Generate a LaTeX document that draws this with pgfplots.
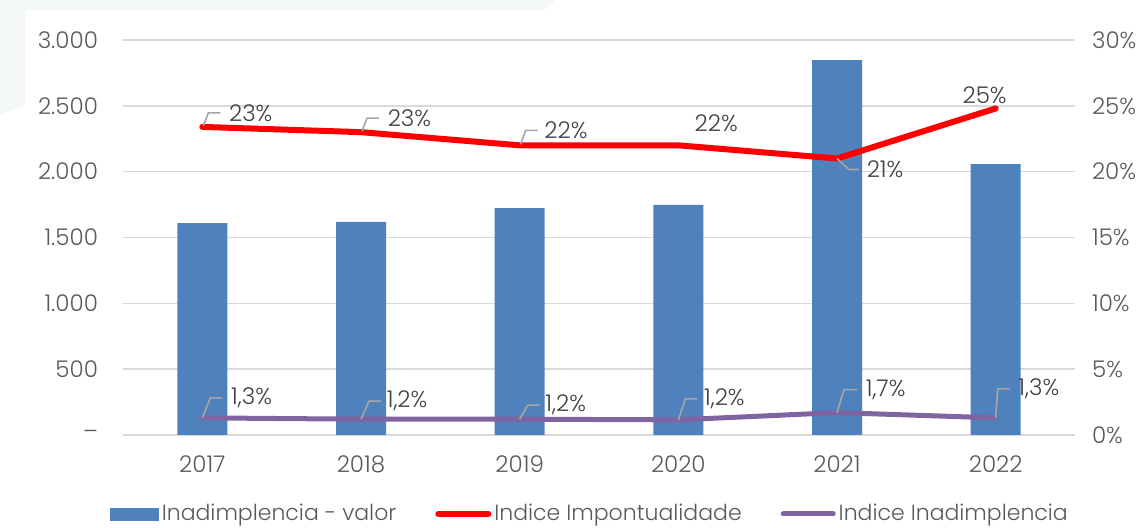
\documentclass[border=0pt]{standalone}
\usepackage{pgfplots}
\pgfplotsset{compat=1.18}
\usepackage{fontspec}
\setmainfont{Poppins Light}
\definecolor{barblue}{HTML}{4F81BD}
\definecolor{lred}{HTML}{FF0000}
\definecolor{lpurple}{HTML}{8064A2}
\definecolor{tickgray}{HTML}{595959}
\definecolor{labgray}{HTML}{404040}
\definecolor{gridgray}{HTML}{D9D9D9}
\definecolor{leadgray}{HTML}{A6A6A6}
\definecolor{bgtint}{HTML}{F3F7F7}
\begin{document}
\begin{tikzpicture}[font=\fontsize{11.5pt}{13pt}\selectfont]
\useasboundingbox (-61.5pt,-46.5pt) rectangle (510pt,217.5pt);
\fill[bgtint] (-61.5pt,217.5pt) -- (216pt,217.5pt) -- (211pt,212.5pt) -- (-49pt,212.5pt) -- (-49pt,165pt) -- (-61.5pt,160pt) -- cycle;
\begin{axis}[
  at={(0,0)}, anchor=south west,
  width=476pt, height=197.5pt, scale only axis,
  xmin=-0.5, xmax=5.5, ymin=0, ymax=3000,
  xtick={0,1,2,3,4,5},
  xticklabels={2017,2018,2019,2020,2021,2022},
  ytick={0,500,1000,1500,2000,2500,3000},
  yticklabels={--,500,1.000,1.500,2.000,2.500,3.000},
  major tick length=0pt,
  axis line style={draw=none},
  ymajorgrids, grid style={gridgray, line width=0.8pt},
  tick label style={tickgray},
  yticklabel style={xshift=-9pt, anchor=east},
  xticklabel style={yshift=-7pt},
  /pgf/number format/assume math mode=true,
]
\addplot[ybar, bar width=25pt, fill=barblue, draw=none] coordinates {
  (0,1610) (1,1618) (2,1724) (3,1747) (4,2848) (5,2058)};
\end{axis}
\begin{axis}[
  at={(0,0)}, anchor=south west,
  width=476pt, height=197.5pt, scale only axis,
  xmin=-0.5, xmax=5.5, ymin=0, ymax=30,
  axis x line=none,
  axis y line*=right,
  y axis line style={draw=none},
  ytick={0,5,10,15,20,25,30},
  yticklabels={0\%,5\%,10\%,15\%,20\%,25\%,30\%},
  major tick length=0pt,
  tick label style={tickgray},
  yticklabel style={xshift=5pt, anchor=west},
  /pgf/number format/assume math mode=true,
  legend columns=3,
  legend style={at={(0.491,-0.200)}, anchor=center, draw=none, fill=none,
    text=tickgray, inner sep=0pt, font=\fontsize{11pt}{12pt}\selectfont,
    /tikz/every even column/.append style={column sep=18pt},
    nodes={inner sep=1.5pt}},
]
\addlegendimage{legend image code/.code={\fill[barblue] (0pt,-3pt) rectangle (24pt,3pt);}}
\addlegendentry{Inadimplencia - valor}
\addplot[lred, line width=3pt, line cap=round, line join=round,
  legend image code/.code={\draw[lred, line width=3pt, line cap=round] (0pt,0pt) -- (25pt,0pt);}]
  coordinates {(0,23.4) (1,23.0) (2,22.0) (3,22.0) (4,21.0) (5,24.8)};
\addlegendentry{Indice Impontualidade}
\addplot[lpurple, line width=2.5pt, line cap=round, line join=round,
  legend image code/.code={\draw[lpurple, line width=2.5pt, line cap=round] (0pt,0pt) -- (25pt,0pt);}]
  coordinates {(0,1.3) (1,1.2) (2,1.2) (3,1.15) (4,1.7) (5,1.3)};
\addlegendentry{Indice Inadimplencia}
% data labels: red
\draw[leadgray, line width=0.8pt] (axis cs:0,23.4) ++(0.5pt,0.5pt) -- ++(2.5pt,6.5pt) -- ++(6pt,0pt) node[anchor=west, labgray, inner sep=0pt, xshift=4pt]{23\%};
\draw[leadgray, line width=0.8pt] (axis cs:1,23.0) ++(0.5pt,0.5pt) -- ++(2.5pt,6.5pt) -- ++(6pt,0pt) node[anchor=west, labgray, inner sep=0pt, xshift=4pt]{23\%};
\draw[leadgray, line width=0.8pt] (axis cs:2,22.0) ++(0.5pt,0.5pt) -- ++(2.5pt,7pt) -- ++(6pt,0pt) node[anchor=west, labgray, inner sep=0pt, xshift=3pt]{22\%};
\node[anchor=west, labgray, inner sep=0pt] at ([xshift=8pt,yshift=11pt]axis cs:3,22.0) {22\%};
\draw[leadgray, line width=0.8pt] (axis cs:4,21.0) ++(0pt,0pt) -- ++(6pt,-5.5pt) -- ++(5pt,0pt) node[anchor=west, labgray, inner sep=0pt, xshift=3.5pt]{21\%};
\node[anchor=center, labgray, inner sep=0pt] at ([xshift=-5.5pt,yshift=6.5pt]axis cs:5,24.8) {25\%};
% data labels: purple
\draw[leadgray, line width=0.8pt] (axis cs:0,1.3) -- ++(4pt,10pt) -- ++(6pt,0pt) node[anchor=west, labgray, inner sep=0pt, xshift=4pt]{1,3\%};
\draw[leadgray, line width=0.8pt] (axis cs:1,1.2) -- ++(4pt,9pt) -- ++(6pt,0pt) node[anchor=west, labgray, inner sep=0pt, xshift=2.5pt]{1,2\%};
\draw[leadgray, line width=0.8pt] (axis cs:2,1.2) -- ++(4pt,7pt) -- ++(6pt,0pt) node[anchor=west, labgray, inner sep=0pt, xshift=2.5pt]{1,2\%};
\draw[leadgray, line width=0.8pt] (axis cs:3,1.15) -- ++(3.5pt,10.5pt) -- ++(6pt,0pt) node[anchor=west, labgray, inner sep=0pt, xshift=3pt]{1,2\%};
\draw[leadgray, line width=0.8pt] (axis cs:4,1.7) -- ++(3.5pt,11.5pt) -- ++(6.5pt,0pt) node[anchor=west, labgray, inner sep=0pt, xshift=4pt]{1,7\%};
\draw[leadgray, line width=0.8pt] (axis cs:5,1.3) -- ++(1pt,14.5pt) -- ++(6pt,0pt) node[anchor=west, labgray, inner sep=0pt, xshift=4pt]{1,3\%};
\end{axis}
\end{tikzpicture}
\end{document}
